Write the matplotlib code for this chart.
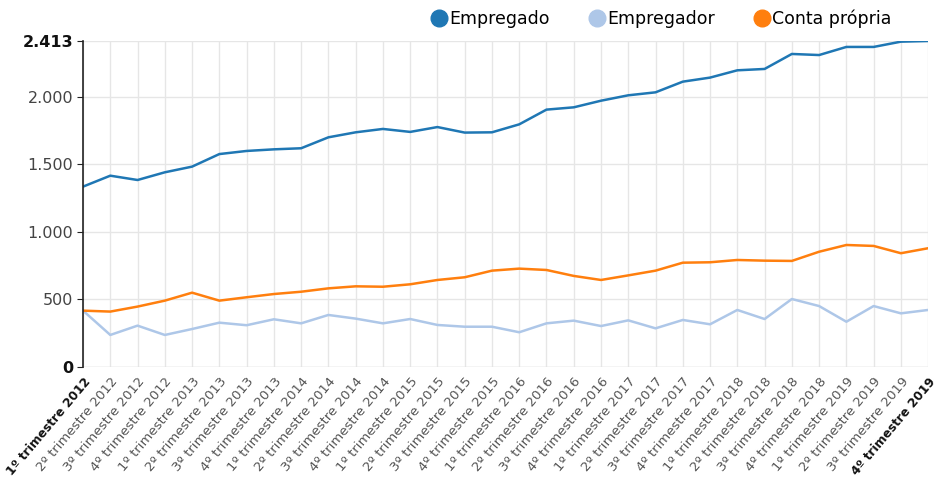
import matplotlib.pyplot as plt
import matplotlib.transforms as mtransforms
from matplotlib.lines import Line2D

plt.rcParams['font.family'] = ['DejaVu Sans']

# Data
quarters = ["%dº trimestre %d" % (q, y) for y in range(2012, 2020) for q in range(1, 5)]
empregado = [1335, 1416, 1384, 1441, 1483, 1576, 1599, 1611, 1619, 1700, 1737, 1762, 1740, 1776, 1735, 1737,
             1796, 1905, 1922, 1971, 2011, 2033, 2112, 2142, 2196, 2206, 2317, 2309, 2369, 2369, 2408, 2413]
empregador = [417, 237, 306, 237, 281, 328, 309, 353, 323, 385, 358, 323, 355, 311, 298, 298,
              257, 323, 343, 303, 345, 286, 348, 316, 422, 355, 503, 451, 335, 451, 397, 422]
conta_propria = [417, 410, 447, 491, 550, 491, 516, 540, 557, 582, 597, 594, 612, 644, 664, 713,
                 728, 718, 674, 644, 678, 713, 772, 775, 792, 787, 785, 853, 903, 896, 842, 879]
y_ticks = [0, 500, 1000, 1500, 2000, 2413]
y_tick_labels = ["0", "500", "1.000", "1.500", "2.000", "2.413"]

colors = {"Empregado": "#1f77b4", "Empregador": "#aec7e8", "Conta própria": "#ff7f0e"}

fig = plt.figure(figsize=(9.5, 4.88), dpi=100)
ax = fig.add_axes([0.0874, 0.248, 0.8896, 0.668])

x = list(range(len(quarters)))
ax.plot(x, empregado, color=colors["Empregado"], lw=1.8)
ax.plot(x, empregador, color=colors["Empregador"], lw=1.8)
ax.plot(x, conta_propria, color=colors["Conta própria"], lw=1.8)

ax.set_xlim(0, len(quarters) - 1)
ax.set_ylim(0, 2413)

# Axes styling
for side in ["top", "right", "bottom"]:
    ax.spines[side].set_visible(False)
ax.spines["left"].set_color("#222222")
ax.spines["left"].set_linewidth(1.2)
ax.axhline(0, color="#dddddd", lw=1)

ax.set_yticks(y_ticks)
ax.set_yticklabels(y_tick_labels, fontsize=11.5, color="#444444")
for i in (0, -1):
    ax.get_yticklabels()[i].set_fontweight("bold")
    ax.get_yticklabels()[i].set_color("#111111")
ax.tick_params(axis="y", length=4, color="#222222", pad=3)

ax.set_xticks(x)
ax.set_xticklabels(quarters, rotation=50, ha="right", rotation_mode="anchor", fontsize=9.5, color="#555555")
shift = mtransforms.ScaledTranslation(13 / 100, 0, fig.dpi_scale_trans)
for lbl in ax.get_xticklabels():
    lbl.set_transform(lbl.get_transform() + shift)
for i in (0, -1):
    ax.get_xticklabels()[i].set_fontweight("bold")
    ax.get_xticklabels()[i].set_fontsize(8.8)
    ax.get_xticklabels()[i].set_color("#111111")
ax.tick_params(axis="x", length=0, pad=6)

ax.grid(True, color="#e6e6e6", lw=1)
ax.set_axisbelow(True)

# Legend
handles = [Line2D([], [], marker="o", ls="", markersize=12, color=c, label=k) for k, c in colors.items()]
fig.legend(handles=handles, loc="center", bbox_to_anchor=(0.696, 0.961), ncol=3, frameon=False,
           fontsize=12.5, handletextpad=0.1, columnspacing=2.2, handlelength=1.0)

fig.savefig("out.png", dpi=100)
